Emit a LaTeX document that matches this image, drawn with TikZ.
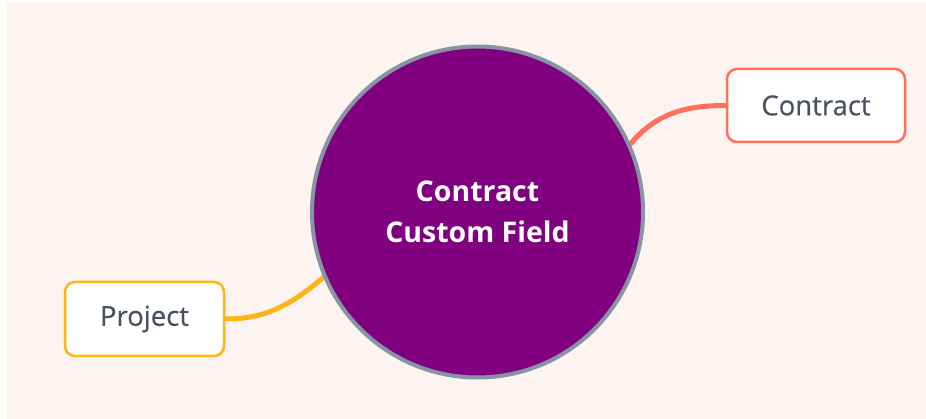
\documentclass[tikz,border=0pt]{standalone}
\usepackage{fontspec}
\setmainfont{Open Sans}
\newfontfamily\leaffont[FakeBold=0.35]{Open Sans}
\usetikzlibrary{backgrounds}
\definecolor{bgpink}{HTML}{FDF3F1}
\definecolor{hubpurple}{HTML}{800080}
\definecolor{hubrim}{HTML}{8794A4}
\definecolor{contractred}{HTML}{FF6F5C}
\definecolor{projectgold}{HTML}{FDB516}
\definecolor{labelgray}{HTML}{48515E}
\begin{document}
\begin{tikzpicture}[x=1pt,y=-1pt,
    leaf/.style={draw,line width=2.5pt,fill=white,rounded corners=10pt,text=labelgray,font=\leaffont\fontsize{27.5}{32}\selectfont},
    link/.style={line width=5pt,line cap=round}]
  \useasboundingbox (0,0) rectangle (926,419);
  %nodi
  \node[circle,fill=hubpurple,draw=hubrim,line width=4pt,minimum size=331pt,inner sep=0pt,
        text=white,font=\bfseries\fontsize{28.5}{41}\selectfont,align=center] (hub) at (477.5,212) {Contract\\Custom Field};
  \node[leaf,draw=contractred,minimum width=178pt,minimum height=73pt] (contract) at (816,105.5) {Contract};
  \node[leaf,draw=projectgold,minimum width=159pt,minimum height=74pt] (project) at (144.5,319) {Project};
  %sfondo e rami
  \begin{pgfonlayer}{background}
    \fill[white] (0,0) rectangle (926,419);
    \fill[bgpink] (7,2) rectangle (926,419);
    \draw[link,contractred] (hub.24) to[out=50,in=180] (contract.west);
    \draw[link,projectgold] (project.east) to[out=0,in=220] (hub.203);
  \end{pgfonlayer}
\end{tikzpicture}
\end{document}
